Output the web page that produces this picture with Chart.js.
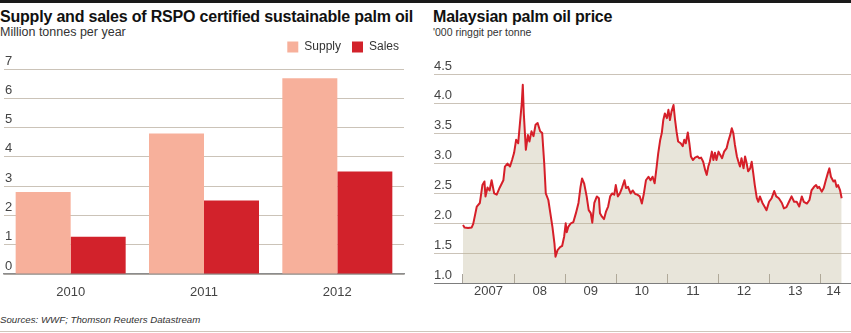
<!DOCTYPE html>
<html>
<head>
<meta charset="utf-8">
<script src="https://cdn.jsdelivr.net/npm/chart.js@4.4.1/dist/chart.umd.min.js"></script>
<style>
  html, body { margin: 0; padding: 0; background: #fff; }
  body { width: 851px; height: 333px; position: relative; overflow: hidden; font-family: "Liberation Sans", Arial, sans-serif; color: #222; }
  .topbar { position: absolute; left: 0; top: 0; width: 851px; height: 3px; background: #1a1a1a; }
  .rule { position: absolute; left: 0; top: 331px; width: 851px; height: 1px; background: #cfc6bb; }
  .title { position: absolute; top: 9px; font-size: 16px; line-height: 16px; font-weight: bold; letter-spacing: -0.2px; color: #111; white-space: nowrap; }
  .sub { position: absolute; color: #333; white-space: nowrap; }
  .src { position: absolute; left: 0; top: 315px; font-size: 9.7px; line-height: 10px; font-style: italic; color: #333; white-space: nowrap; }
  canvas { position: absolute; }
</style>
</head>
<body>
<div class="topbar"></div>
<div class="title" style="left:0">Supply and sales of RSPO certified sustainable palm oil</div>
<div class="sub" style="left:0; top:26px; font-size:12.5px; line-height:12.5px">Million tonnes per year</div>
<div class="title" style="left:433px">Malaysian palm oil price</div>
<div class="sub" style="left:433px; top:27px; font-size:10.5px; line-height:10.5px">'000 ringgit per tonne</div>
<canvas id="rspo" width="403" height="275" style="left:2px; top:30px"></canvas>
<canvas id="price" width="417" height="260" style="left:434px; top:56px"></canvas>
<div class="src">Sources: WWF; Thomson Reuters Datastream</div>
<div class="rule"></div>

<script>
// left chart: RSPO certified palm oil, million tonnes
const years = ["2010", "2011", "2012"];
const supply = [2.8, 4.8, 6.68];
const sales = [1.27, 2.51, 3.5];

// right chart: Malaysian palm oil price, '000 ringgit per tonne
const priceDates = [
  2007.00, 2007.03, 2007.10, 2007.17, 2007.20, 2007.27, 2007.33, 2007.38, 2007.42, 2007.44,
  2007.48, 2007.52, 2007.56, 2007.61, 2007.66, 2007.72, 2007.79, 2007.82, 2007.87, 2007.92,
  2007.96, 2008.00, 2008.04, 2008.08, 2008.12, 2008.15, 2008.17, 2008.19, 2008.23, 2008.27,
  2008.30, 2008.34, 2008.38, 2008.42, 2008.46, 2008.51, 2008.55, 2008.59, 2008.62, 2008.67,
  2008.70, 2008.75, 2008.79, 2008.81, 2008.85, 2008.90, 2008.94, 2008.98, 2009.01, 2009.03,
  2009.06, 2009.11, 2009.16, 2009.21, 2009.26, 2009.30, 2009.33, 2009.37, 2009.42, 2009.46,
  2009.50, 2009.53, 2009.57, 2009.62, 2009.66, 2009.68, 2009.72, 2009.76, 2009.80, 2009.84,
  2009.88, 2009.92, 2009.96, 2009.99, 2010.03, 2010.07, 2010.11, 2010.16, 2010.19, 2010.23,
  2010.28, 2010.32, 2010.37, 2010.41, 2010.46, 2010.50, 2010.54, 2010.58, 2010.63, 2010.67,
  2010.71, 2010.75, 2010.79, 2010.82, 2010.86, 2010.89, 2010.92, 2010.95, 2010.99, 2011.02,
  2011.05, 2011.08, 2011.12, 2011.15, 2011.18, 2011.21, 2011.26, 2011.30, 2011.33, 2011.36,
  2011.40, 2011.43, 2011.46, 2011.50, 2011.54, 2011.59, 2011.62, 2011.66, 2011.70, 2011.74,
  2011.77, 2011.80, 2011.83, 2011.87, 2011.90, 2011.93, 2011.96, 2012.00, 2012.03, 2012.07,
  2012.11, 2012.16, 2012.19, 2012.23, 2012.26, 2012.29, 2012.32, 2012.36, 2012.39, 2012.42,
  2012.45, 2012.49, 2012.52, 2012.55, 2012.58, 2012.62, 2012.65, 2012.68, 2012.71, 2012.75,
  2012.78, 2012.81, 2012.86, 2012.90, 2012.94, 2012.99, 2013.04, 2013.09, 2013.13, 2013.18,
  2013.24, 2013.28, 2013.33, 2013.38, 2013.43, 2013.48, 2013.53, 2013.58, 2013.63, 2013.67,
  2013.73, 2013.78, 2013.82, 2013.87, 2013.91, 2013.94, 2013.97, 2014.02, 2014.06, 2014.10,
  2014.14, 2014.17, 2014.20, 2014.25, 2014.28, 2014.31, 2014.34, 2014.38, 2014.41
];
const priceValues = [
  1.97, 1.93, 1.92, 1.93, 1.99, 2.28, 2.34, 2.64, 2.70, 2.45,
  2.60, 2.55, 2.72, 2.50, 2.48, 2.60, 2.72, 2.95, 3.00, 2.95,
  3.06, 3.18, 3.40, 3.34, 3.73, 4.01, 4.32, 3.84, 3.23, 3.48,
  3.37, 3.54, 3.46, 3.65, 3.68, 3.54, 3.51, 3.00, 2.50, 2.39,
  2.22, 1.94, 1.66, 1.44, 1.55, 1.60, 1.62, 1.78, 2.00, 1.85,
  1.94, 2.00, 2.02, 2.17, 2.34, 2.61, 2.75, 2.67, 2.45, 2.22,
  2.17, 2.01, 2.34, 2.45, 2.42, 2.17, 2.11, 2.07, 2.20, 2.28,
  2.45, 2.50, 2.48, 2.64, 2.45, 2.50, 2.59, 2.72, 2.59, 2.61,
  2.50, 2.55, 2.49, 2.48, 2.45, 2.33, 2.50, 2.72, 2.78, 2.72,
  2.78, 2.67, 2.95, 3.17, 3.40, 3.51, 3.73, 3.84, 3.76, 3.90,
  3.73, 3.87, 3.98, 3.73, 3.53, 3.37, 3.34, 3.29, 3.40, 3.34,
  3.52, 3.34, 3.12, 3.06, 3.10, 3.12, 3.09, 3.10, 3.03, 2.89,
  2.81, 2.95, 3.03, 3.20, 3.06, 3.18, 3.06, 3.20, 3.15, 3.09,
  3.20, 3.26, 3.37, 3.48, 3.59, 3.51, 3.32, 3.12, 3.03, 2.95,
  3.09, 2.92, 3.12, 3.01, 2.87, 2.92, 3.03, 2.84, 2.64, 2.42,
  2.36, 2.45, 2.34, 2.28, 2.22, 2.36, 2.42, 2.54, 2.45, 2.42,
  2.34, 2.25, 2.27, 2.36, 2.45, 2.36, 2.36, 2.28, 2.45, 2.36,
  2.33, 2.39, 2.55, 2.61, 2.64, 2.59, 2.61, 2.53, 2.59, 2.72,
  2.84, 2.92, 2.78, 2.70, 2.72, 2.61, 2.64, 2.55, 2.42
];
const yearStarts = [2007, 2008, 2009, 2010, 2011, 2012, 2013, 2014];
const yearLabelAt = [2007.5, 2008.5, 2009.5, 2010.5, 2011.5, 2012.5, 2013.5, 2014.25];
const yearLabels = ["2007", "08", "09", "10", "11", "12", "13", "14"];

const GRID = "#cbc3b8";
const TICK_FONT = { family: "'Liberation Sans', Arial, sans-serif", size: 13 };

// push the legend a little lower/right than Chart.js places it
const legendNudge = {
  id: "legendNudge",
  beforeLayout(chart) {
    const lg = chart.legend;
    if (lg && !lg._nudged) {
      const fit = lg.fit;
      lg.fit = function () { fit.call(this); this.height += 6; };
      lg._nudged = true;
    }
  },
  afterLayout(chart) {
    chart.legend.left += 6;
    chart.legend.right += 6;
  }
};

new Chart(document.getElementById("rspo"), {
  type: "bar",
  data: {
    labels: years,
    datasets: [
      { label: "Supply", data: supply, backgroundColor: "#f7b09b" },
      { label: "Sales", data: sales, backgroundColor: "#d2222b" }
    ]
  },
  options: {
    responsive: false,
    animation: false,
    devicePixelRatio: 1,
    categoryPercentage: 0.825,
    barPercentage: 1,
    layout: { padding: { top: 0, right: 1, bottom: 1.4, left: 0 } },
    plugins: {
      tooltip: { enabled: false },
      legend: {
        position: "top",
        align: "end",
        labels: {
          boxWidth: 11, boxHeight: 11, padding: 11, color: "#333",
          font: { family: "'Liberation Sans', Arial, sans-serif", size: 12 }
        }
      }
    },
    scales: {
      x: {
        grid: { display: false },
        border: { display: true, color: "#8c8c8c", width: 1.5 },
        ticks: { color: "#444", font: TICK_FONT, padding: 3 }
      },
      y: {
        min: 0, max: 7,
        grid: { color: GRID, lineWidth: 1, drawTicks: false },
        border: { display: false },
        ticks: { stepSize: 1, mirror: true, padding: 1, labelOffset: -8, color: "#444", font: TICK_FONT }
      }
    }
  },
  plugins: [legendNudge]
});

new Chart(document.getElementById("price"), {
  type: "line",
  data: {
    datasets: [{
      data: priceDates.map((d, i) => ({ x: d, y: priceValues[i] })),
      borderColor: "#d61f29",
      borderWidth: 2,
      backgroundColor: "rgba(190, 180, 150, 0.35)",
      fill: "start",
      pointRadius: 0,
      tension: 0,
      borderJoinStyle: "round"
    }]
  },
  options: {
    responsive: false,
    animation: false,
    devicePixelRatio: 1,
    layout: { padding: { top: 18, right: 0, bottom: 6.4, left: 0 } },
    plugins: { legend: { display: false }, tooltip: { enabled: false } },
    scales: {
      x: {
        type: "linear",
        min: 2006.4325, max: 2014.593,
        afterBuildTicks: (axis) => {
          axis.ticks = yearStarts.concat(yearLabelAt).sort((a, b) => a - b).map(v => ({ value: v }));
        },
        grid: {
          drawOnChartArea: false, drawTicks: true, tickLength: -9, lineWidth: 1,
          tickColor: (ctx) => (ctx.tick && yearStarts.includes(ctx.tick.value)) ? "#a9a49c" : "rgba(0,0,0,0)"
        },
        border: { display: true, color: "#7d7d7d", width: 1 },
        ticks: {
          autoSkip: false, maxRotation: 0, padding: 10, color: "#444", font: TICK_FONT,
          callback: (v) => { const i = yearLabelAt.indexOf(v); return i >= 0 ? yearLabels[i] : ""; }
        }
      },
      y: {
        min: 1, max: 4.5,
        grid: { color: GRID, lineWidth: 1, drawTicks: false },
        border: { display: false },
        ticks: {
          stepSize: 0.5, mirror: true, padding: 0, labelOffset: -8, color: "#444", font: TICK_FONT,
          callback: (v) => v.toFixed(1)
        }
      }
    }
  }
});
</script>
</body>
</html>
